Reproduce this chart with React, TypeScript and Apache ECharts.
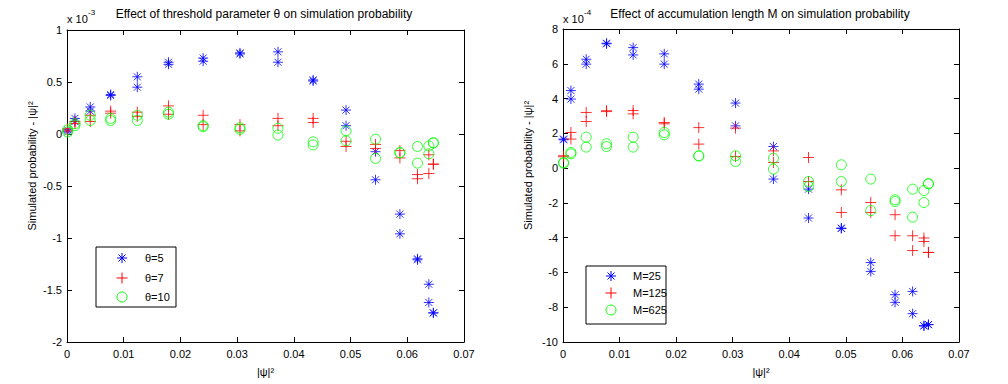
import React, { useEffect, useRef } from "react";
import * as echarts from "echarts";

// shared |psi|^2 positions
const X = [0.0001, 0.0014, 0.0041, 0.0077, 0.0124, 0.0179, 0.024, 0.0305, 0.0372, 0.0434, 0.0492, 0.0544, 0.0587, 0.0618, 0.0638, 0.0646];

// left plot (x 1e-3)
const theta5A = [0.04, 0.15, 0.26, 0.38, 0.55, 0.69, 0.73, 0.78, 0.79, 0.52, 0.23, -0.17, -0.77, -1.2, -1.445, -1.72];
const theta5B = [0.02, 0.12, 0.22, 0.37, 0.45, 0.67, 0.7, 0.77, 0.69, 0.51, 0.08, -0.44, -0.96, -1.21, -1.62, -1.72];
const theta7A = [0.05, 0.12, 0.18, 0.22, 0.21, 0.27, 0.18, 0.09, 0.15, 0.15, -0.07, -0.1, -0.16, -0.39, -0.2, -0.29];
const theta7B = [0.03, 0.1, 0.12, 0.2, 0.17, 0.19, 0.09, 0.03, 0.08, 0.11, -0.12, -0.14, -0.23, -0.43, -0.38, -0.29];
const theta10A = [0.02, 0.08, 0.18, 0.15, 0.18, 0.21, 0.08, 0.06, 0.055, -0.075, 0.03, -0.05, -0.18, -0.12, -0.115, -0.085];
const theta10B = [0.04, 0.1, 0.13, 0.13, 0.13, 0.19, 0.07, 0.045, -0.01, -0.105, -0.065, -0.235, -0.18, -0.28, -0.19, -0.085];

// right plot (x 1e-4)
const m25A = [1.67, 4.46, 6.26, 7.18, 6.93, 6.57, 4.83, 3.74, 1.24, -1.21, -3.45, -5.43, -7.28, -7.09, -9.06, -9.0];
const m25B = [1.63, 3.97, 5.98, 7.15, 6.51, 5.98, 4.54, 2.43, -0.63, -2.87, -3.47, -5.94, -7.72, -8.37, -9.08, -9.0];
const m125A = [0.71, 2.05, 3.2, 3.3, 3.31, 2.62, 2.33, 2.3, 0.99, 0.61, -1.25, -1.98, -2.68, -3.89, -4.02, -4.85];
const m125B = [0.65, 1.67, 2.68, 3.25, 3.12, 2.55, 1.38, 0.67, 0.32, -0.77, -2.55, -2.55, -3.89, -4.74, -4.22, -4.85];
const m625A = [0.32, 0.82, 1.78, 1.4, 1.78, 2.05, 0.71, 0.71, 0.57, -0.77, 0.19, -0.63, -1.82, -1.21, -1.29, -0.9];
const m625B = [0.28, 0.9, 1.21, 1.24, 1.21, 1.91, 0.7, 0.38, -0.06, -1.06, -0.77, -2.44, -1.92, -2.82, -1.98, -0.9];

const leftNames = ["θ=5", "θ=7", "θ=10"];
const rightNames = ["M=25", "M=125", "M=625"];
const xTicks = { min: 0, max: 0.07, interval: 0.01 };
const leftY = { min: -2, max: 1, interval: 0.5 };
const rightY = { min: -10, max: 8, interval: 2 };

const FONT = "Liberation Sans, Arial, sans-serif";
const BLUE = "#0000ff";
const RED = "#ff0000";
const GREEN = "#00ff00";
const STAR = "path://M0,5L10,5M5,0L5,10M1.5,1.5L8.5,8.5M8.5,1.5L1.5,8.5";
const PLUS = "path://M0,5L10,5M5,0L5,10";

const pts = (a: number[], b: number[]) =>
  X.map((x, i) => [x, a[i]]).concat(X.map((x, i) => [x, b[i]]));

const seg = (x1: number, y1: number, x2: number, y2: number, c: string) => ({
  type: "line", shape: { x1, y1, x2, y2 }, style: { stroke: c, lineWidth: 1 }, z: 10,
});
const starMark = (cx: number, cy: number) => [
  seg(cx - 5, cy, cx + 5, cy, BLUE), seg(cx, cy - 5, cx, cy + 5, BLUE),
  seg(cx - 3.5, cy - 3.5, cx + 3.5, cy + 3.5, BLUE), seg(cx + 3.5, cy - 3.5, cx - 3.5, cy + 3.5, BLUE),
];
const plusMark = (cx: number, cy: number) => [
  seg(cx - 5.5, cy, cx + 5.5, cy, RED), seg(cx, cy - 5.5, cx, cy + 5.5, RED),
];
const circleMark = (cx: number, cy: number) => [
  { type: "circle", shape: { cx, cy, r: 5 }, style: { fill: "none", stroke: GREEN, lineWidth: 1 }, z: 10 },
];
const legendText = (x: number, y: number, text: string) => ({
  type: "text", x, y, z: 10,
  style: { text, font: `11px ${FONT}`, fill: "#000", textVerticalAlign: "middle" },
});
const legendBlock = (names: string[], box: number[], mx: number, tx: number, rows: number[]) => [
  { type: "rect", shape: { x: box[0], y: box[1], width: box[2], height: box[3] }, style: { fill: "#fff", stroke: "#000", lineWidth: 1 }, z: 9 },
  ...starMark(mx, rows[0]), ...plusMark(mx, rows[1]), ...circleMark(mx, rows[2]),
  legendText(tx, rows[0], names[0]), legendText(tx, rows[1], names[1]), legendText(tx, rows[2], names[2]),
];

export default function App() {
  const ref = useRef<HTMLDivElement>(null);
  useEffect(() => {
    document.body.style.margin = "0";
    const chart = echarts.init(ref.current!, null, { renderer: "svg" });
    const axisLine = { show: true, onZero: false, lineStyle: { color: "#000", width: 1 } };
    const tick = { show: true, inside: true, length: 5, lineStyle: { color: "#000" } };
    const label = { color: "#000", fontSize: 11, fontFamily: FONT };
    const mkX = (grid: number, top: boolean) => ({
      type: "value", gridIndex: grid, ...xTicks, position: top ? "top" : "bottom",
      axisLine, axisTick: tick, splitLine: { show: false },
      axisLabel: { ...label, show: !top, margin: 6 },
      name: top ? "" : "|ψ|²", nameLocation: "middle", nameGap: 24,
      nameTextStyle: { color: "#000", fontSize: 11, fontFamily: FONT },
    });
    const mkY = (grid: number, right: boolean, r: any) => ({
      type: "value", gridIndex: grid, ...r, position: right ? "right" : "left",
      axisLine, axisTick: tick, splitLine: { show: false },
      axisLabel: { ...label, show: !right, margin: 5 },
      name: right ? "" : "Simulated probability - |ψ|²", nameLocation: "middle", nameGap: 30,
      nameTextStyle: { color: "#000", fontSize: 11, fontFamily: FONT, padding: [0, 0, 0, 40] },
    });
    const sty = (c: string) => ({ color: "none", borderColor: c, borderWidth: 1 });
    const mkS = (name: string, sym: string, size: number, c: string, data: any, g: number) => ({
      type: "scatter", name, data, symbol: sym, symbolSize: size,
      xAxisIndex: g * 2, yAxisIndex: g * 2, itemStyle: sty(c), z: 3,
    });
    chart.setOption({
      animation: false,
      backgroundColor: "#fff",
      grid: [
        { left: 67, right: 544, top: 30, bottom: 42 },
        { left: 563, right: 49, top: 29, bottom: 42 },
      ],
      xAxis: [mkX(0, false), mkX(0, true), mkX(1, false), mkX(1, true)],
      yAxis: [mkY(0, false, leftY), mkY(0, true, leftY), mkY(1, false, rightY), mkY(1, true, rightY)],
      series: [
        mkS(leftNames[0], STAR, 10, BLUE, pts(theta5A, theta5B), 0),
        mkS(leftNames[1], PLUS, 11, RED, pts(theta7A, theta7B), 0),
        mkS(leftNames[2], "circle", 10, GREEN, pts(theta10A, theta10B), 0),
        mkS(rightNames[0], STAR, 10, BLUE, pts(m25A, m25B), 1),
        mkS(rightNames[1], PLUS, 11, RED, pts(m125A, m125B), 1),
        mkS(rightNames[2], "circle", 10, GREEN, pts(m625A, m625B), 1),
      ],
      graphic: [
        ...legendBlock(leftNames, [96, 247, 80, 60], 122, 145, [258, 278, 297]),
        ...legendBlock(rightNames, [586, 266, 80, 58], 611, 633, [276, 293, 310]),
        { type: "text", x: 264, y: 14, style: { text: "Effect of threshold parameter θ on simulation probability", font: `12px ${FONT}`, fill: "#000", textAlign: "center", textVerticalAlign: "middle" } },
        { type: "text", x: 760, y: 14, style: { text: "Effect of accumulation length M on simulation probability", font: `12px ${FONT}`, fill: "#000", textAlign: "center", textVerticalAlign: "middle" } },
        { type: "text", x: 67, y: 19, style: { text: "x 10", font: `11px ${FONT}`, fill: "#000", textVerticalAlign: "middle" } },
        { type: "text", x: 88, y: 12, style: { text: "-3", font: `8px ${FONT}`, fill: "#000", textVerticalAlign: "middle" } },
        { type: "text", x: 563, y: 19, style: { text: "x 10", font: `11px ${FONT}`, fill: "#000", textVerticalAlign: "middle" } },
        { type: "text", x: 584, y: 12, style: { text: "-4", font: `8px ${FONT}`, fill: "#000", textVerticalAlign: "middle" } },
      ],
    });
    return () => chart.dispose();
  }, []);
  return <div ref={ref} style={{ width: 1008, height: 384 }} />;
}
